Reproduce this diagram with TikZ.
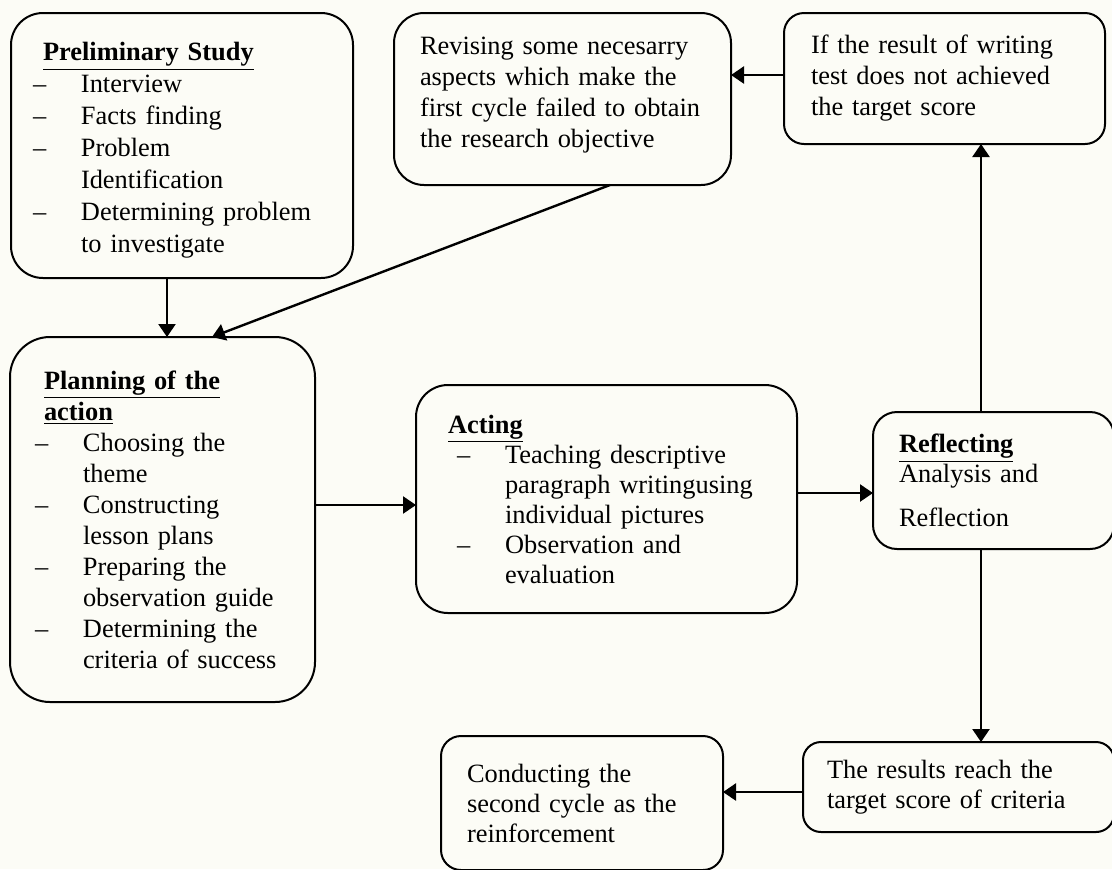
\documentclass[tikz,border=0pt]{standalone}
\usepackage{fontspec}
\setmainfont{Liberation Serif}
\usetikzlibrary{arrows.meta}
\definecolor{paper}{RGB}{252,252,246}
\tikzset{
  box/.style={draw,line width=1pt,anchor=north west,align=left,inner ysep=0pt,outer sep=0pt},
  arr/.style={-{Triangle[length=6.5pt,width=8.5pt]},line width=1.2pt},
}
\newcommand{\txtsize}[1]{\fontsize{13.2}{#1}\selectfont}
\newcommand{\boxtitle}[2][0pt]{\hspace*{#1}\underline{\textbf{#2}}}
\newcommand{\dashitem}[2][0pt]{\hspace*{#1}\makebox[24pt][l]{--}#2}
\newcommand{\contline}[2][0pt]{\hspace*{\dimexpr #1+24pt\relax}#2}

\begin{document}
\begin{tikzpicture}[x=0.5pt,y=-0.5pt]
  \fill[paper] (0,0) rectangle (1112,869);
  \clip (0,0) rectangle (1112,869);

  % top row
  \node[box,rounded corners=16pt,inner xsep=11pt,text width=149pt,minimum height=132.5pt,
        font=\txtsize{16}] (prelim) at (11,13)
    {\rule{0pt}{14pt}\boxtitle[5pt]{Preliminary Study}\\
     \dashitem{Interview}\\
     \dashitem{Facts finding}\\
     \dashitem{Problem}\\
     \contline{Identification}\\
     \dashitem{Determining problem}\\
     \contline{to investigate}};
  \node[box,rounded corners=15pt,inner xsep=13pt,text width=142.5pt,minimum height=86pt,
        font=\txtsize{15.5}] (revise) at (394,13)
    {Revising some necesarry\\
     aspects which make the\\
     \mbox{first cycle failed to obtain}\\
     the research objective\rule[-7pt]{0pt}{0pt}};
  \node[box,rounded corners=10pt,inner xsep=13.5pt,text width=133.5pt,minimum height=65.5pt,
        font=\txtsize{15.5}] (iffail) at (784,13)
    {If the result of writing\\
     test does not achieved\\
     the target score};

  % middle row
  \node[box,rounded corners=20pt,inner xsep=12.5pt,text width=127.5pt,minimum height=182.5pt,
        font=\txtsize{15.5}] (plan) at (10,337)
    {\boxtitle[4.5pt]{Planning of the}\\
     \boxtitle[4.5pt]{action}\\
     \dashitem{Choosing the}\\
     \contline{theme}\\
     \dashitem{Constructing}\\
     \contline{lesson plans}\\
     \dashitem{Preparing the}\\
     \contline{observation guide}\\
     \dashitem{Determining the}\\
     \contline{criteria of success}};
  \node[box,rounded corners=16pt,inner xsep=16pt,text width=158.5pt,minimum height=114pt,
        font=\txtsize{15}] (act) at (416,385)
    {\boxtitle{Acting}\\
     \dashitem[4.5pt]{Teaching descriptive}\\
     \contline[4.5pt]{paragraph writingusing}\\
     \contline[4.5pt]{individual pictures}\\
     \dashitem[4.5pt]{Observation and}\\
     \contline[4.5pt]{evaluation}};
  \node[box,rounded corners=12pt,inner xsep=13pt,text width=94.5pt,minimum height=68.5pt,
        font=\txtsize{15}] (reflect) at (873,412)
    {\boxtitle{Reflecting}\\
     Analysis and\\[7pt]
     Reflection};

  % bottom row
  \node[box,rounded corners=9pt,inner xsep=12pt,text width=131.5pt,minimum height=45pt,
        font=\txtsize{15}] (results) at (803,742)
    {The results reach the\\
     target score of criteria};
  \node[box,rounded corners=10pt,inner xsep=13pt,text width=115pt,minimum height=67pt,
        font=\txtsize{15}] (conduct) at (441,736)
    {Conducting the\\
     second cycle as the\\
     reinforcement};

  % connectors
  \draw[arr] ([xshift=-7.5pt]prelim.south) -- ([xshift=2.25pt]plan.north);
  \draw[arr] ([xshift=23.75pt]revise.south) -- ([xshift=24.75pt]plan.north);
  \draw[arr] ([yshift=1.75pt]iffail.west) -- ([yshift=12pt]revise.east);
  \draw[arr] ([yshift=7.25pt]plan.east) -- ([yshift=-3pt]act.west);
  \draw[arr] ([yshift=3pt]act.east) -- ([yshift=-6.25pt]reflect.west);
  \draw[arr] ([xshift=-6.25pt]reflect.north) -- ([xshift=18.25pt]iffail.south);
  \draw[arr] ([xshift=-6.25pt]reflect.south) -- ([xshift=11.25pt]results.north);
  \draw[arr] ([yshift=-2.5pt]results.west) -- ([yshift=5.5pt]conduct.east);
\end{tikzpicture}
\end{document}
